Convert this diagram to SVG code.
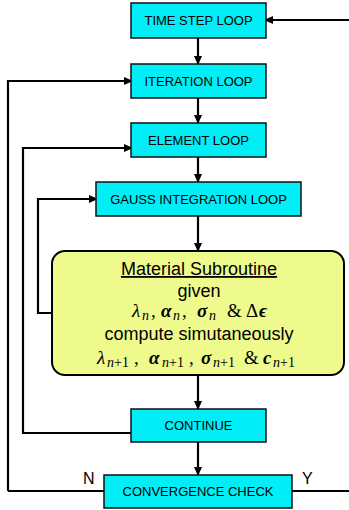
<svg xmlns="http://www.w3.org/2000/svg" width="349" height="510" viewBox="0 0 349 510">
<defs>
<marker id="ah" markerWidth="10" markerHeight="10" refX="8" refY="5" orient="auto" markerUnits="userSpaceOnUse">
<path d="M0,1 L9,5 L0,9 Z" fill="#000"/>
</marker>
<style>
.box{fill:#00eef6;stroke:#111;stroke-width:1.5}
.mat{fill:#effa8c;stroke:#000;stroke-width:2}
.bt{font-family:"Liberation Sans",Arial,sans-serif;font-size:13px;fill:#000;text-anchor:middle}
.st{font-family:"Liberation Sans",Arial,sans-serif;font-size:18px;fill:#000;text-anchor:middle}
.mt{font-family:"Liberation Serif","DejaVu Serif",serif;font-size:19px;fill:#000}
.i{font-style:italic}
.bi{font-style:italic;font-weight:bold}
.sb{font-size:14px}
.lbl{font-family:"Liberation Sans",Arial,sans-serif;font-size:16px;fill:#000}
.c{fill:none;stroke:#000;stroke-width:2.2}
.a{marker-end:url(#ah)}
</style>
</defs>
<rect width="349" height="510" fill="#fff"/>
<g id="connectors">
<path class="c a" d="M349,20 H265"/>
<path class="c a" d="M198,38 V64"/>
<path class="c a" d="M8,491 V81 H132"/>
<path class="c a" d="M198,98 V123"/>
<path class="c a" d="M131,433 H23 V148 H132"/>
<path class="c a" d="M198,157 V182"/>
<path class="c a" d="M52,313 H38 V199 H97"/>
<path class="c a" d="M198,216 V251"/>
<path class="c a" d="M198,375 V409"/>
<path class="c a" d="M198,442 V475"/>
<path class="c" d="M8,491 H104"/>
<path class="c" d="M292,491 H349"/>
</g>
<g id="time_step_loop">
<rect class="box" x="131" y="3" width="135" height="35"/>
<text class="bt" x="198.5" y="25">TIME STEP LOOP</text>
</g>
<g id="iteration_loop">
<rect class="box" x="131" y="64" width="135" height="34"/>
<text class="bt" x="198.5" y="86">ITERATION LOOP</text>
</g>
<g id="element_loop">
<rect class="box" x="131" y="123" width="135" height="34"/>
<text class="bt" x="198.5" y="145">ELEMENT LOOP</text>
</g>
<g id="gauss_integration_loop">
<rect class="box" x="96" y="182" width="205" height="34"/>
<text class="bt" x="198.5" y="204">GAUSS INTEGRATION LOOP</text>
</g>
<g id="material_subroutine">
<rect class="mat" x="52" y="251" width="292" height="124" rx="13" ry="13"/>
<text class="st" x="199" y="275" text-decoration="underline">Material Subroutine</text>
<text class="st" x="199" y="297">given</text>
<text class="mt" y="317"><tspan class="i" x="132">λ</tspan><tspan class="i sb" x="142" y="320">n</tspan><tspan x="151" y="317">,</tspan><tspan class="bi" x="161">α</tspan><tspan class="i sb" x="173" y="320">n</tspan><tspan x="182" y="317">,</tspan><tspan class="bi" x="197">σ</tspan><tspan class="i sb" x="209" y="320">n</tspan><tspan x="227" y="317">&amp;</tspan><tspan x="246">Δ</tspan><tspan class="bi" x="259">ϵ</tspan></text>
<text class="st" x="199" y="340">compute simutaneously</text>
<text class="mt" y="364"><tspan class="i" x="97">λ</tspan><tspan class="sb" x="107" y="367"><tspan class="i">n</tspan>+1</tspan><tspan x="134" y="364">,</tspan><tspan class="bi" x="149">α</tspan><tspan class="sb" x="162" y="367"><tspan class="i">n</tspan>+1</tspan><tspan x="189" y="364">,</tspan><tspan class="bi" x="201">σ</tspan><tspan class="sb" x="213" y="367"><tspan class="i">n</tspan>+1</tspan><tspan x="244" y="364">&amp;</tspan><tspan class="bi" x="263">c</tspan><tspan class="sb" x="273" y="367"><tspan class="i">n</tspan>+1</tspan></text>
</g>
<g id="continue">
<rect class="box" x="131" y="409" width="135" height="33"/>
<text class="bt" x="198.5" y="430">CONTINUE</text>
</g>
<g id="convergence_check">
<rect class="box" x="104" y="475" width="188" height="33"/>
<text class="bt" x="198" y="496">CONVERGENCE CHECK</text>
</g>
<g id="labels">
<text class="lbl" x="83" y="484">N</text>
<text class="lbl" x="302" y="484">Y</text>
</g>
</svg>
